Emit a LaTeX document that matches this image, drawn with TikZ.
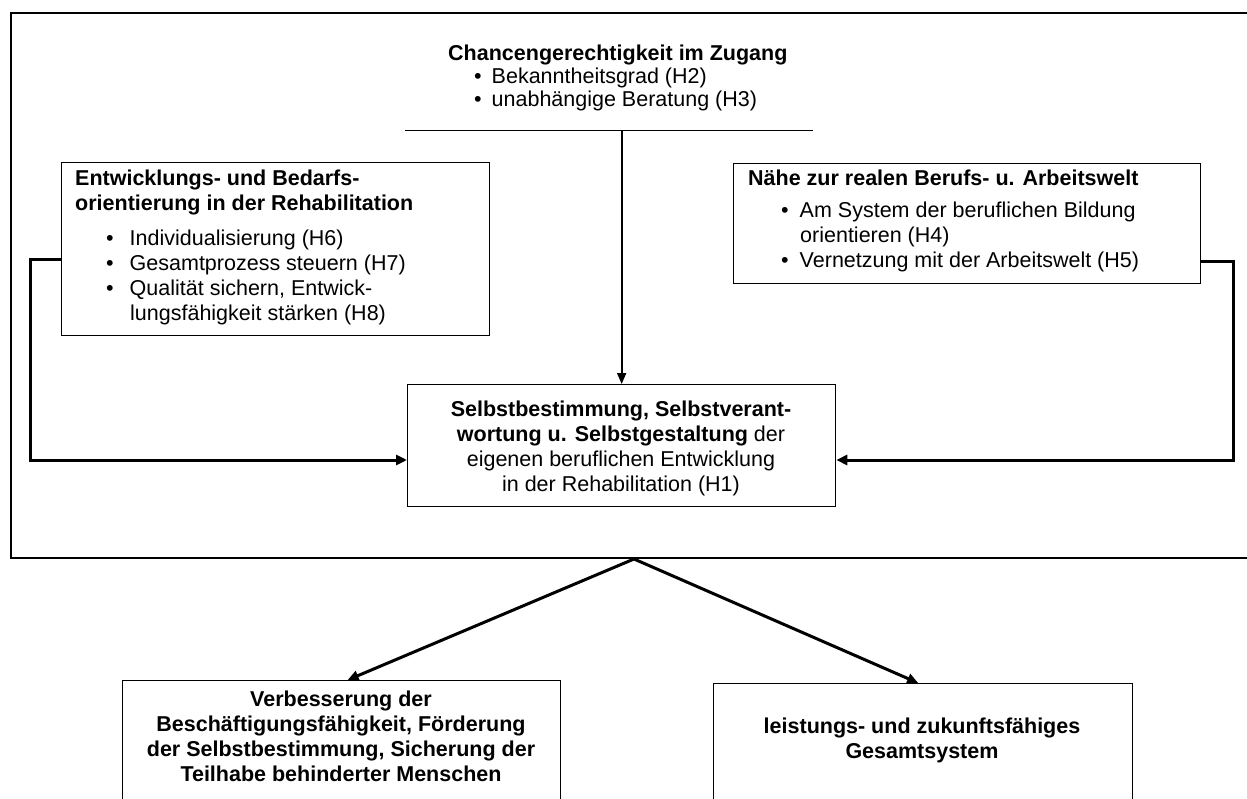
\documentclass[tikz,border=0pt]{standalone}
\usepackage{fontspec}
\setmainfont{Liberation Sans}
\usetikzlibrary{arrows.meta,calc}
\begin{document}
\begin{tikzpicture}[x=1pt,y=-1pt,
  box/.style={draw=black, line width=1.3pt, inner sep=0pt, anchor=north west},
  openbox/.style={inner sep=0pt, anchor=north west},
  edge/.style={draw=black, line width=1.3pt},
  outerframe/.style={draw=black, line width=2pt, inner sep=0pt, anchor=north west},
  txt/.style={inner sep=0pt, font=\fontsize{21.5}{25}\selectfont},
  thinarrow/.style={line width=1.8pt, -{Triangle[length=11pt,width=9pt]}},
  thickarrow/.style={line width=3pt, -{Triangle[length=11pt,width=10pt]}},
]
\useasboundingbox (0,0) rectangle (1247,799);
\clip (0,0) rectangle (1247,799);
% boxes
\node[outerframe, minimum width=1300pt, minimum height=545pt] (frame) at (10,12) {};
\node[openbox, minimum width=408pt, minimum height=95pt] (tb) at (405,35) {};
\draw[edge] (tb.south west) -- (tb.south east);
\node[box, minimum width=428pt, minimum height=173pt] (lb) at (61,162) {};
\node[box, minimum width=467pt, minimum height=120pt] (rb) at (733,163) {};
\node[box, minimum width=428pt, minimum height=122pt] (cb) at (407,384) {};
\node[box, minimum width=438pt, minimum height=200pt] (bl) at (122,680) {};
\node[box, minimum width=419pt, minimum height=200pt] (br) at (713,683) {};
% texts
\node[txt, anchor=north west, align=left, font=\fontsize{21.5}{23}\selectfont] (tbt) at (448,45)
  {\textbf{Chancengerechtigkeit im Zugang}\\
   \hspace*{26pt}\textbullet\hspace{10pt}Bekanntheitsgrad (H2)\\
   \hspace*{26pt}\textbullet\hspace{10pt}unabhängige Beratung (H3)};
\node[txt, anchor=north west, align=left] (lbt) at (75,170)
  {\textbf{Entwicklungs- und Bedarfs-}\\
   \textbf{orientierung in der Rehabilitation}\\[10pt]
   \hspace*{31pt}\textbullet\hspace{16pt}Individualisierung (H6)\\
   \hspace*{31pt}\textbullet\hspace{16pt}Gesamtprozess steuern (H7)\\
   \hspace*{31pt}\textbullet\hspace{16pt}Qualität sichern, Entwick-\\
   \hspace*{55pt}lungsfähigkeit stärken (H8)};
\node[txt, anchor=north west, align=left] (rbt) at (748,170)
  {\textbf{Nähe zur realen Berufs- u. Arbeitswelt}\\[7pt]
   \hspace*{33pt}\textbullet\hspace{11pt}Am System der beruflichen Bildung\\
   \hspace*{52pt}orientieren (H4)\\
   \hspace*{33pt}\textbullet\hspace{11pt}Vernetzung mit der Arbeitswelt (H5)};
\node[txt, anchor=north, align=center] (cbt) at (621,400.5)
  {\textbf{Selbstbestimmung, Selbstverant-}\\
   \textbf{wortung u. Selbstgestaltung} der\\
   eigenen beruflichen Entwicklung\\
   in der Rehabilitation (H1)};
\node[txt, anchor=north, align=center, font=\fontsize{21.5}{25}\selectfont\bfseries] (blt) at (341,690.5)
  {Verbesserung der\\
   Beschäftigungsfähigkeit, Förderung\\
   der Selbstbestimmung, Sicherung der\\
   Teilhabe behinderter Menschen};
\node[txt, anchor=north, align=center, font=\fontsize{21.5}{25}\selectfont\bfseries] (brt) at (922,717.5)
  {leistungs- und zukunftsfähiges\\
   Gesamtsystem};
% ports
\coordinate (lport) at ($(lb.north west)+(0,98)$);
\coordinate (rport) at ($(rb.north east)+(0,99)$);
\coordinate (cin) at ($(cb.north west)+(0,76)$);
\coordinate (cinr) at ($(cb.north east)+(0,76)$);
\coordinate (apex) at ($(frame.south west)+(624,0)$);
\coordinate (blin) at ($(bl.north)+(6,0)$);
\coordinate (brin) at ($(br.north)+(-5,0)$);
% connectors
\draw[thinarrow] (tb.south -| cb.north) -- (cb.north);
\draw[thickarrow] (lport) -- ++(-31,0) |- (cin);
\draw[thickarrow] (rport) -- ++(32,0) |- (cinr);
\draw[thickarrow] (apex) -- (blin);
\draw[thickarrow] (apex) -- (brin);
\end{tikzpicture}
\end{document}
